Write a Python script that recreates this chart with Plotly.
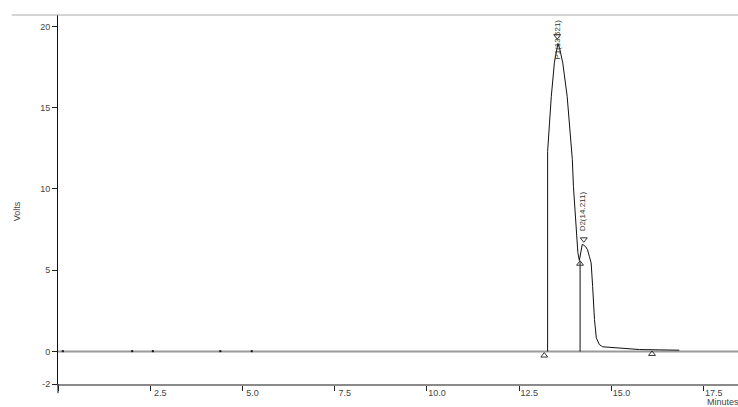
import plotly.graph_objects as go

# ---- data ----
baseline_x = [0.0, 18.43]
baseline_y = [0.0, 0.0]

noise_x = [0.13, 2.01, 2.57, 4.40, 5.25]
noise_y = [0.02, 0.02, 0.02, 0.02, 0.02]

signal_x = [13.27, 13.27, 13.32, 13.37, 13.455, 13.53, 13.55, 13.60, 13.68, 13.80,
            13.86, 13.94, 13.97, 14.02, 14.05, 14.09, 14.13, 14.17, 14.21, 14.30, 14.35,
            14.40, 14.45, 14.49, 14.54, 14.59, 14.67, 14.76, 14.95, 15.30, 15.76, 16.30, 16.84]
signal_y = [0.0, 12.3, 14.0, 15.7, 17.8, 18.8, 18.95, 18.6, 17.76, 15.7,
            14.2, 11.8, 10.14, 8.11, 6.88, 6.08, 5.6, 6.1, 6.6, 6.45, 6.27,
            5.86, 5.45, 4.0, 1.97, 0.84, 0.43, 0.29, 0.26, 0.17, 0.12, 0.1, 0.08]

drop_x = [14.15, 14.15]
drop_y = [0.0, 5.55]

start_marks_x = [13.18, 14.15, 16.10]
start_marks_y = [-0.25, 5.4, -0.15]
apex_marks_x = [13.53, 14.25]
apex_marks_y = [19.4, 6.9]

peak_names = ["P1(13.521)", "D2(14.211)"]
peak_label_x = [13.53, 14.22]
peak_label_y = [19.2, 8.6]

x_ticks = [0, 2.5, 5.0, 7.5, 10.0, 12.5, 15.0, 17.5]
x_ticktext = ["", "2.5", "5.0", "7.5", "10.0", "12.5", "15.0", "17.5"]
y_ticks = [-2, 0, 5, 10, 15, 20]
y_ticktext = ["-2", "0", "5", "10", "15", "20"]

fig = go.Figure()
fig.add_trace(go.Scatter(x=baseline_x, y=baseline_y, mode="lines",
                         line=dict(color="#9a9a9a", width=2), hoverinfo="skip"))
fig.add_trace(go.Scatter(x=signal_x, y=signal_y, mode="lines",
                         line=dict(color="#111111", width=1)))
fig.add_trace(go.Scatter(x=drop_x, y=drop_y, mode="lines",
                         line=dict(color="#111111", width=1)))
fig.add_trace(go.Scatter(x=noise_x, y=noise_y, mode="markers",
                         marker=dict(color="#111111", size=2, symbol="square")))
fig.add_trace(go.Scatter(x=start_marks_x, y=start_marks_y, mode="markers",
                         marker=dict(symbol="triangle-up-open", size=6,
                                     color="#333333", line=dict(width=1))))
fig.add_trace(go.Scatter(x=apex_marks_x, y=apex_marks_y, mode="markers",
                         marker=dict(symbol="triangle-down-open", size=6,
                                     color="#333333", line=dict(width=1))))

for name, lx, ly in zip(peak_names, peak_label_x, peak_label_y):
    fig.add_annotation(x=lx, y=ly, text=name, textangle=-90, showarrow=False,
                       xanchor="center", yanchor="middle",
                       font=dict(family="Arial", size=8, color="#333333"))

fig.add_annotation(xref="paper", yref="paper", x=-0.061, y=0.467, text="Volts",
                   textangle=-90, showarrow=False, xanchor="center", yanchor="middle",
                   font=dict(family="Arial", size=9, color="#444444"))
fig.add_annotation(xref="paper", yref="paper", x=(705 - 58) / 680, y=-0.048,
                   text="Minutes", showarrow=False, xanchor="left", yanchor="middle",
                   font=dict(family="Arial", size=9, color="#444444"))

# top border line
fig.add_shape(type="line", xref="paper", yref="paper", x0=-0.068, x1=1, y0=1, y1=1,
              line=dict(color="#aaaaaa", width=1))
# y axis extension below x axis
fig.add_shape(type="line", xref="paper", yref="paper", x0=0, x1=0, y0=0, y1=-0.025,
              line=dict(color="#111111", width=1))

fig.update_layout(
    width=738, height=407,
    margin=dict(l=58, r=0, t=15, b=23),
    plot_bgcolor="white", paper_bgcolor="white",
    showlegend=False,
    font=dict(family="Arial", size=9, color="#444444"),
)
fig.update_xaxes(range=[0, 18.43], tickvals=x_ticks, ticktext=x_ticktext,
                 showgrid=False, zeroline=False,
                 showline=True, linecolor="#8a8a8a", linewidth=2,
                 ticks="outside", ticklen=5, tickcolor="#222222", tickwidth=1,
                 ticklabelshift=10, ticklabelstandoff=-6,
                 tickfont=dict(family="Arial", size=9, color="#444444"))
fig.update_yaxes(range=[-2, 20.7], tickvals=y_ticks, ticktext=y_ticktext,
                 showgrid=False, zeroline=False,
                 showline=True, linecolor="#111111", linewidth=1,
                 ticks="outside", ticklen=5, tickcolor="#222222", tickwidth=1,
                 tickfont=dict(family="Arial", size=9, color="#444444"))

fig.write_html("out.html")
